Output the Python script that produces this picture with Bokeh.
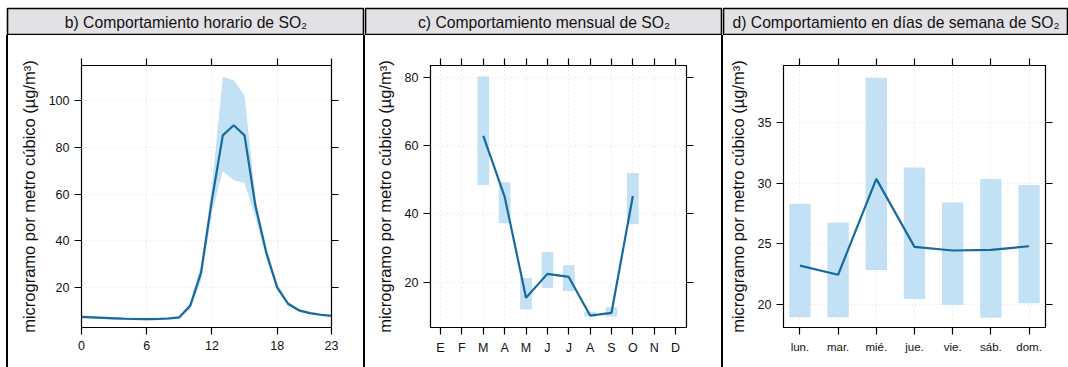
from bokeh.plotting import figure
from bokeh.layouts import row, column
from bokeh.models import (Range1d, LinearAxis, FixedTicker, Spacer, Div,
                          CustomLabelingPolicy)
from bokeh.core.properties import value
from bokeh.embed import file_html
from bokeh.resources import INLINE

NAN = float("nan")

# ---- data ----
hours = list(range(24))
hour_mean = [7.6, 7.4, 7.2, 7.0, 6.8, 6.7, 6.6, 6.7, 6.9, 7.4, 12.3, 26.5, 57.5, 85.0, 89.3, 85.0, 55.0, 35.0, 20.2, 13.2, 10.4, 9.2, 8.5, 8.0]
hour_low = [7.0, 6.9, 6.7, 6.5, 6.3, 6.2, 6.1, 6.2, 6.4, 6.8, 11.0, 23.0, 52.0, 69.7, 66.0, 64.7, 50.0, 32.5, 18.8, 12.3, 9.8, 8.7, 8.0, 7.5]
hour_high = [8.2, 8.0, 7.8, 7.5, 7.3, 7.2, 7.1, 7.2, 7.4, 8.0, 13.6, 30.0, 63.0, 110.0, 108.5, 102.0, 58.5, 37.5, 21.6, 14.2, 11.0, 9.8, 9.0, 8.5]
hour_ticks = [0, 6, 12, 18, 23]

months = ["E", "F", "M", "A", "M", "J", "J", "A", "S", "O", "N", "D"]
month_mean = [NAN, NAN, 62.8, 45.0, 15.4, 22.4, 21.5, 10.2, 11.0, 45.2, NAN, NAN]
month_low = [NAN, NAN, 48.4, 37.2, 12.0, 18.3, 17.4, 9.9, 9.9, 36.9, NAN, NAN]
month_high = [NAN, NAN, 80.2, 49.2, 21.2, 28.8, 24.9, 11.3, 12.6, 51.9, NAN, NAN]

days = ["lun.", "mar.", "mié.", "jue.", "vie.", "sáb.", "dom."]
day_mean = [23.2, 22.45, 30.35, 24.75, 24.45, 24.5, 24.8]
day_low = [18.95, 18.95, 22.85, 20.45, 19.95, 18.9, 20.1]
day_high = [28.3, 26.75, 38.7, 31.3, 28.4, 30.35, 29.85]

titles = ["b) Comportamiento horario de SO₂",
          "c) Comportamiento mensual de SO₂",
          "d) Comportamiento en días de semana de SO₂"]
ylabel = "microgramo por metro cúbico (µg/m³)"

LINE = "#176a9b"
BAND = "#c3e1f4"
HEADER = "#e3e1e5"
FONT = "Liberation Sans"
MAIN_H = 332
HEAD_H = 28

HIDE = CustomLabelingPolicy(code="for (const i of indices) indices.unset(i); return indices")


def make_header(width, title):
    h = figure(width=width, height=HEAD_H, x_range=Range1d(0, 1), y_range=Range1d(0, 1),
               output_backend="svg", toolbar_location=None, x_axis_location=None,
               y_axis_location=None, min_border_left=1, min_border_right=0,
               min_border_top=1, min_border_bottom=1)
    h.grid.visible = False
    h.background_fill_color = HEADER
    h.border_fill_color = "white"
    h.outline_line_color = "black"
    h.outline_line_width = 1.6
    h.text(x=[0.5], y=[0.47], text=[title], text_align="center", text_baseline="middle",
           text_font=value(FONT), text_font_size="15.7px", text_color="#111111")
    return h


def make_panel(width, bl, br, bt, bb, xr, yr, xticks, yticks, xlabels=None, xlab_size="12px"):
    p = figure(width=width, height=MAIN_H, x_range=Range1d(*xr), y_range=Range1d(*yr),
               output_backend="svg", toolbar_location=None, x_axis_location=None,
               y_axis_location=None, min_border_left=bl, min_border_right=br,
               min_border_top=bt, min_border_bottom=bb)
    p.outline_line_color = "black"
    p.outline_line_width = 1.2
    p.background_fill_color = "white"
    p.border_fill_color = "white"
    for side, ticks, lab in [("below", xticks, True), ("above", xticks, False),
                             ("left", yticks, True), ("right", yticks, False)]:
        ax = LinearAxis(ticker=FixedTicker(ticks=ticks))
        ax.major_tick_out = 7
        ax.major_tick_in = 0
        ax.minor_tick_line_color = None
        ax.axis_line_color = "black"
        ax.major_tick_line_color = "black"
        ax.major_tick_line_width = 1.2
        ax.major_label_text_font = FONT
        ax.major_label_text_color = "#111111"
        ax.major_label_text_font_size = "12.5px"
        if not lab:
            ax.major_label_text_font_size = "1px"
            ax.major_label_standoff = 0
            ax.major_label_policy = HIDE
        if side == "below":
            ax.major_label_standoff = 6
            if xlabels is not None:
                ax.major_label_overrides = {t: l for t, l in zip(xticks, xlabels)}
                ax.major_label_text_font_size = xlab_size
        if side == "left":
            ax.axis_label = ylabel
            ax.axis_label_text_font = FONT
            ax.axis_label_text_font_size = "16.5px"
            ax.axis_label_text_font_style = "normal"
            ax.axis_label_text_color = "#111111"
            ax.axis_label_standoff = 8
            ax.major_label_standoff = 5
        p.add_layout(ax, side)
    p.xgrid.ticker = FixedTicker(ticks=xticks)
    p.ygrid.ticker = FixedTicker(ticks=yticks)
    for g in (p.xgrid, p.ygrid):
        g.grid_line_color = "#dcdcdc"
        g.grid_line_dash = "1 3"
    return p


def vline():
    return Div(text="", width=2, height=MAIN_H, margin=0,
               styles={"background-color": "black"})


p1 = make_panel(355, 73, 32, 30, 38, (0, 23), (3.07, 114.8), hour_ticks,
                [20, 40, 60, 80, 100])
p1.varea(x=hours, y1=hour_low, y2=hour_high, fill_color=BAND, fill_alpha=1.0)
p1.line(x=hours, y=hour_mean, line_color=LINE, line_width=2.2)

mpos = list(range(1, 13))
p2 = make_panel(356, 65, 35, 30, 38, (0.53, 12.51), (6.7, 83.4), mpos,
                [20, 40, 60, 80], xlabels=months, xlab_size="12.5px")
p2.vbar(x=mpos, bottom=month_low, top=month_high, width=0.55, fill_color=BAND,
        line_color=None)
p2.line(x=mpos, y=month_mean, line_color=LINE, line_width=2.2)

dpos = list(range(1, 8))
p3 = make_panel(345, 60, 23, 27, 40, (0.57, 7.43), (18.1, 39.7), dpos,
                [20, 25, 30, 35], xlabels=days, xlab_size="11.5px")
p3.vbar(x=dpos, bottom=day_low, top=day_high, width=0.56, fill_color=BAND,
        line_color=None)
p3.line(x=dpos, y=day_mean, line_color=LINE, line_width=2.2)

h1 = make_header(358, titles[0])
h2 = make_header(358, titles[1])
h3 = make_header(346, titles[2])

layout = column(
    Spacer(width=1068, height=7, margin=0),
    row(Spacer(width=6, height=HEAD_H, margin=0), h1, h2, h3, spacing=0),
    row(Spacer(width=6, height=MAIN_H, margin=0), vline(), p1, vline(), p2, vline(), p3,
        spacing=0),
    spacing=0,
)
open("out.html", "w").write(file_html(layout, INLINE))
